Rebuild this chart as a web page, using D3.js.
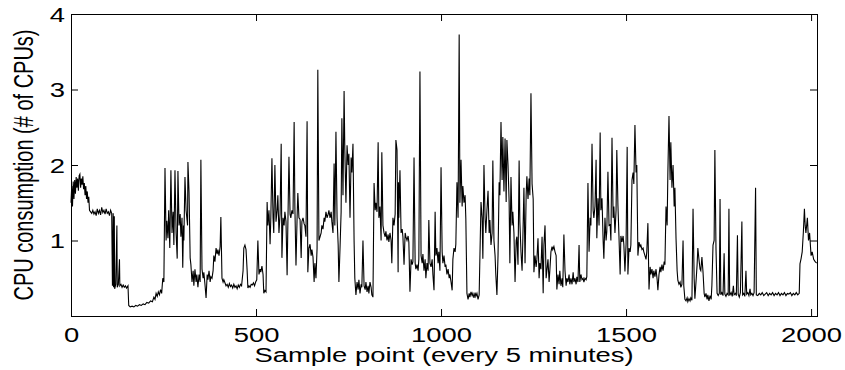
<!DOCTYPE html>
<html>
<head>
<meta charset="utf-8">
<script src="https://cdn.jsdelivr.net/npm/d3@7"></script>
<style>
  html, body { margin: 0; padding: 0; background: #fff; }
  svg { display: block; }
  svg text { font-family: "Liberation Sans", Arial, sans-serif; fill: #000; }
</style>
</head>
<body>
<svg id="chart" width="845" height="370"></svg>
<script>
// [sample index, CPUs used], one vertex per visible turn
const cpuTrace = [
  [0,1.5],[2,1.72],[4,1.45],[6,1.78],[8,1.55],[10,1.8],[12,1.62],[14,1.84],[16,1.7],[18,1.82],
  [20,1.66],[22,1.86],[24,1.88],[26,1.7],[28,1.82],[30,1.74],[32,1.85],[34,1.68],[36,1.76],[38,1.6],
  [40,1.72],[42,1.55],[44,1.65],[46,1.5],[48,1.58],[50,1.4],[53,1.38],[56,1.36],[59,1.4],[62,1.35],
  [65,1.38],[68,1.33],[71,1.42],[74,1.36],[77,1.4],[80,1.34],[83,1.44],[86,1.37],[89,1.4],[92,1.35],
  [95,1.42],[98,1.36],[101,1.38],[104,1.33],[107,1.4],[110,1.36],[112,0.4],[114,1.36],[115,0.38],[117,1.32],
  [118,0.36],[121,0.42],[124,1.2],[125,0.38],[128,0.42],[131,0.75],[132,0.4],[135,0.42],[138,0.38],[141,0.41],
  [144,0.38],[147,0.4],[150,0.37],[154,0.4],[156,0.14],[160,0.12],[165,0.13],[170,0.12],[175,0.14],[180,0.13],
  [185,0.15],[190,0.14],[195,0.16],[200,0.15],[205,0.18],[210,0.17],[215,0.2],[220,0.19],[224,0.25],[227,0.22],
  [230,0.3],[233,0.26],[236,0.32],[239,0.28],[242,0.35],[245,0.3],[248,0.5],[251,0.45],[254,1.96],[257,1.0],
  [259,1.26],[262,1.03],[264,1.4],[267,0.9],[270,1.93],[273,1.1],[276,1.38],[278,0.94],[281,1.93],[284,1.1],
  [287,0.76],[289,1.92],[292,1.2],[295,1.35],[297,1.05],[300,1.3],[302,0.64],[304,1.2],[305,1.0],[308,1.84],
  [311,1.4],[315,1.2],[316,2.04],[319,1.64],[322,0.77],[324,0.68],[327,0.45],[330,0.6],[332,0.4],[335,0.62],
  [338,0.45],[340,0.55],[343,0.38],[346,0.55],[349,0.45],[351,2.07],[354,0.62],[357,0.5],[359,0.58],[362,0.42],
  [365,0.24],[368,0.55],[370,0.48],[373,0.6],[376,0.45],[378,0.52],[381,0.5],[384,0.6],[386,0.8],[389,0.72],
  [392,0.9],[395,0.82],[397,0.88],[400,0.8],[403,0.92],[405,1.31],[408,0.5],[411,0.45],[413,0.48],[416,0.44],
  [419,0.4],[422,0.42],[425,0.38],[428,0.43],[431,0.39],[434,0.41],[437,0.37],[440,0.42],[443,0.38],[446,0.4],
  [449,0.36],[452,0.41],[455,0.38],[458,0.42],[461,0.4],[465,0.6],[467,0.9],[470,0.94],[473,0.88],[476,0.6],
  [478,0.37],[481,0.4],[484,0.38],[487,0.42],[490,0.41],[493,0.44],[496,0.4],[499,0.45],[502,0.48],[505,1.0],
  [508,0.55],[511,0.62],[513,0.58],[516,0.66],[519,0.55],[521,0.3],[524,0.34],[527,0.32],[530,1.51],[532,1.2],
  [535,1.4],[538,0.95],[540,1.3],[543,2.09],[546,1.3],[548,1.1],[551,2.0],[554,1.25],[557,1.4],[559,1.6],
  [562,1.1],[565,1.35],[568,2.28],[570,0.77],[573,1.3],[576,1.2],[578,1.38],[581,1.25],[584,0.54],[586,1.2],
  [589,2.11],[592,1.35],[594,1.3],[597,1.4],[600,1.35],[603,2.57],[605,1.45],[608,0.67],[611,1.3],[613,1.63],
  [616,1.3],[619,1.28],[622,0.77],[624,1.25],[627,1.3],[630,1.22],[632,1.2],[635,1.05],[638,2.58],[640,0.58],
  [643,0.9],[646,0.95],[649,0.8],[651,0.88],[654,0.78],[657,0.45],[659,0.7],[662,0.5],[665,0.9],[667,3.26],
  [670,1.0],[673,1.05],[676,1.1],[678,1.2],[681,1.15],[684,1.3],[686,1.25],[689,1.38],[692,1.3],[695,1.35],
  [697,1.4],[700,1.3],[703,1.38],[705,1.25],[708,1.1],[711,2.02],[713,1.2],[716,2.44],[719,1.3],[722,0.94],
  [724,0.45],[727,0.9],[730,1.38],[732,2.62],[735,1.6],[738,2.98],[740,2.2],[743,1.5],[746,2.26],[749,2.0],
  [751,2.15],[754,1.3],[757,2.1],[759,1.9],[762,2.28],[765,1.0],[767,0.5],[770,0.28],[773,0.45],[776,0.35],
  [778,0.48],[781,0.3],[784,0.42],[786,0.38],[789,1.0],[792,0.4],[795,0.35],[797,0.45],[800,0.32],[803,0.4],
  [805,0.3],[808,0.45],[811,0.38],[813,0.28],[816,0.25],[819,1.76],[822,1.4],[824,1.5],[827,1.38],[830,2.3],
  [832,1.3],[835,1.45],[838,1.0],[840,2.17],[843,1.2],[846,1.1],[849,1.05],[851,1.12],[854,1.0],[857,1.08],
  [859,0.98],[862,1.1],[865,1.0],[867,0.7],[870,1.3],[873,1.2],[876,1.35],[878,2.33],[881,2.2],[884,0.58],
  [885,1.77],[886,1.3],[889,1.93],[892,1.1],[895,1.15],[897,1.05],[900,0.68],[903,1.1],[905,1.05],[908,1.0],
  [911,1.06],[913,0.98],[916,0.32],[919,0.75],[922,0.68],[924,0.72],[927,2.1],[930,0.7],[932,0.62],[935,0.68],
  [938,0.6],[940,0.75],[943,3.24],[946,0.8],[949,0.7],[951,0.82],[954,0.6],[957,0.75],[959,0.5],[962,0.7],
  [965,0.6],[967,1.27],[970,0.7],[973,0.65],[976,0.75],[978,0.55],[981,0.34],[984,1.38],[986,0.8],[989,0.9],
  [992,0.7],[994,0.85],[997,0.6],[1000,1.97],[1003,0.85],[1005,0.7],[1008,0.8],[1011,0.65],[1013,0.68],[1016,0.55],
  [1019,0.62],[1022,0.5],[1024,0.55],[1027,0.45],[1030,0.34],[1032,0.75],[1035,0.9],[1038,0.85],[1040,0.95],[1043,1.77],
  [1046,1.3],[1049,3.73],[1051,1.5],[1054,2.07],[1057,1.45],[1059,1.72],[1062,1.5],[1065,1.6],[1067,1.29],[1070,0.3],
  [1073,0.22],[1076,0.3],[1078,0.25],[1081,0.32],[1084,0.27],[1086,0.3],[1089,0.24],[1092,0.31],[1094,0.26],[1097,0.3],
  [1100,0.22],[1103,0.28],[1108,1.51],[1111,1.3],[1113,0.76],[1116,2.0],[1119,1.3],[1121,1.1],[1124,1.4],[1127,1.66],
  [1130,1.1],[1132,1.27],[1135,0.94],[1138,1.1],[1140,2.06],[1143,1.0],[1146,0.8],[1148,0.55],[1151,0.28],[1154,0.8],
  [1157,1.77],[1159,1.6],[1162,2.57],[1165,1.8],[1167,2.37],[1170,1.65],[1173,2.35],[1176,1.51],[1178,2.33],[1181,2.0],
  [1184,1.51],[1186,0.7],[1189,1.84],[1192,1.2],[1194,1.38],[1197,1.1],[1200,0.45],[1203,1.0],[1205,1.05],[1208,0.68],
  [1211,2.06],[1213,1.25],[1216,0.85],[1219,0.6],[1221,1.0],[1224,1.7],[1227,0.7],[1230,1.6],[1232,1.85],[1235,1.55],
  [1238,1.82],[1240,1.6],[1243,2.95],[1246,1.75],[1249,1.55],[1251,0.58],[1254,0.8],[1257,0.65],[1259,0.75],[1262,1.03],
  [1265,0.5],[1267,0.7],[1270,0.62],[1273,1.05],[1276,0.3],[1278,0.94],[1281,1.2],[1284,0.5],[1286,0.6],[1289,0.75],
  [1292,0.45],[1294,0.6],[1297,0.85],[1300,0.92],[1302,0.88],[1305,0.92],[1308,0.85],[1311,0.8],[1313,0.35],[1316,0.55],
  [1319,0.42],[1321,0.6],[1324,0.4],[1327,0.5],[1329,0.38],[1332,1.08],[1335,0.6],[1338,0.4],[1340,0.5],[1343,0.45],
  [1346,0.55],[1348,0.42],[1351,0.5],[1354,0.42],[1357,0.58],[1359,0.45],[1362,0.5],[1365,0.42],[1367,0.52],[1370,0.45],
  [1373,0.94],[1375,0.45],[1378,0.55],[1381,0.48],[1384,0.5],[1386,0.45],[1389,0.5],[1392,0.48],[1394,0.52],[1397,1.76],
  [1400,0.85],[1403,1.3],[1405,1.2],[1408,2.28],[1411,1.4],[1413,1.3],[1416,1.45],[1419,2.07],[1421,1.03],[1424,1.56],
  [1427,1.2],[1430,2.43],[1432,1.4],[1435,1.56],[1438,1.0],[1440,0.76],[1443,1.3],[1446,1.0],[1448,1.12],[1451,1.91],
  [1454,1.2],[1457,1.21],[1459,1.0],[1462,2.36],[1465,1.3],[1467,1.45],[1470,1.1],[1473,1.4],[1475,2.2],[1478,1.47],
  [1481,1.03],[1484,0.55],[1486,1.06],[1489,0.98],[1492,1.06],[1494,0.95],[1497,0.59],[1500,0.95],[1503,2.24],[1505,0.55],
  [1508,0.9],[1511,0.85],[1513,0.94],[1516,1.8],[1519,1.9],[1521,1.75],[1524,2.53],[1527,1.9],[1529,2.0],[1532,0.8],
  [1535,0.98],[1538,0.92],[1540,0.94],[1543,0.88],[1546,0.9],[1548,0.85],[1551,0.8],[1554,0.75],[1556,0.85],[1559,1.23],
  [1562,0.35],[1565,0.65],[1567,0.55],[1570,0.62],[1573,0.5],[1575,0.6],[1578,0.52],[1581,0.62],[1584,0.48],[1586,0.34],
  [1589,0.55],[1592,0.65],[1594,0.58],[1597,0.68],[1600,0.6],[1603,0.72],[1605,0.68],[1608,1.45],[1611,1.2],[1613,1.9],
  [1616,2.65],[1619,1.8],[1621,2.3],[1624,1.7],[1627,2.0],[1630,1.45],[1632,1.7],[1635,1.03],[1638,0.6],[1640,0.47],
  [1643,0.42],[1646,0.45],[1648,0.38],[1651,0.42],[1654,1.0],[1656,0.4],[1659,0.22],[1662,0.2],[1665,0.24],[1667,0.19],
  [1670,0.23],[1673,0.2],[1675,0.24],[1678,0.21],[1681,1.42],[1684,0.5],[1686,0.23],[1689,0.45],[1692,0.68],[1694,0.9],
  [1697,0.75],[1700,0.62],[1702,0.6],[1705,0.78],[1708,0.58],[1711,0.3],[1713,0.25],[1716,0.3],[1719,0.22],[1721,0.28],
  [1724,0.2],[1727,0.27],[1730,0.22],[1732,0.41],[1735,0.94],[1738,1.0],[1740,2.2],[1743,0.9],[1746,0.3],[1749,0.27],
  [1752,0.3],[1754,1.55],[1756,0.28],[1759,0.31],[1762,0.27],[1765,0.83],[1767,0.29],[1770,0.26],[1773,0.3],[1776,0.28],
  [1778,1.42],[1780,0.27],[1784,0.31],[1787,0.26],[1790,0.4],[1792,0.28],[1796,0.3],[1798,0.27],[1801,1.07],[1803,0.29],
  [1806,0.25],[1809,0.31],[1813,1.25],[1815,0.28],[1818,0.3],[1821,0.26],[1824,0.6],[1826,0.29],[1829,0.31],[1832,0.27],
  [1835,0.36],[1837,0.28],[1840,0.3],[1843,0.27],[1846,0.31],[1850,1.7],[1852,0.28],[1856,0.27],[1860,0.3],[1864,0.28],
  [1868,0.31],[1872,0.27],[1876,0.29],[1880,0.31],[1884,0.27],[1888,0.3],[1892,0.28],[1896,0.31],[1900,0.27],[1904,0.3],
  [1908,0.28],[1912,0.31],[1916,0.27],[1920,0.3],[1924,0.28],[1928,0.31],[1932,0.27],[1936,0.3],[1940,0.29],[1944,0.31],
  [1948,0.27],[1952,0.3],[1956,0.28],[1960,0.31],[1964,0.28],[1968,0.3],[1970,0.69],[1973,0.76],[1976,0.85],[1979,1.1],
  [1982,1.42],[1984,1.2],[1986,1.1],[1990,1.3],[1993,1.0],[1996,1.1],[2000,0.8],[2003,0.85],[2007,0.75],[2011,0.72],
  [2015,0.7]
]

const xTicks = [0, 500, 1000, 1500, 2000]
const yTicks = [1, 2, 3, 4]
const xTitle = "Sample point (every 5 minutes)"
const yTitle = "CPU consumption (# of CPUs)"

const width = 845
const height = 370
const margin = { top: 14, right: 28, bottom: 54, left: 71 }
const innerWidth = width - margin.left - margin.right
const innerHeight = height - margin.top - margin.bottom
// the source figure was exported stretched sideways, text included
const stretch = 1.37
const fontSize = 20

const svg = d3.select("#chart")
svg.append("rect").attr("width", width).attr("height", height).attr("fill", "#fff")

const x = d3.scaleLinear().domain([0, 2016]).range([0, innerWidth])
const y = d3.scaleLinear().domain([0, 4]).range([innerHeight, 0])

const g = svg.append("g").attr("transform", `translate(${margin.left},${margin.top})`)

const line = d3.line()
    .x((d) => x(d[0]))
    .y((d) => y(d[1]))

g.append("path")
    .datum(cpuTrace)
    .attr("fill", "none")
    .attr("stroke", "#000")
    .attr("stroke-width", 1.1)
    .attr("d", line)

// widen glyphs the way the stretched export did, keeping the layout box honest
const widen = (sel) => sel.each(function () {
    const w = this.getComputedTextLength()
    d3.select(this).attr("textLength", w * stretch).attr("lengthAdjust", "spacingAndGlyphs")
})

// matlab style box: inward ticks on all four sides
const tickLen = 7
const styleAxis = (sel) => {
    sel.attr("font-family", null).attr("font-size", null)
    sel.select(".domain").remove()
    sel.selectAll(".tick line").attr("stroke", "#000")
    sel.selectAll(".tick text").style("font-size", fontSize + "px")
}
const noLabels = (sel) => sel.selectAll(".tick text").remove()

g.append("g")
    .attr("transform", `translate(0,${innerHeight})`)
    .call(d3.axisBottom(x).tickValues(xTicks).tickSize(-tickLen).tickFormat(d3.format("d")))
    .call(styleAxis)
    .call((a) => a.selectAll(".tick text").attr("y", 26).attr("dy", null).call(widen))

g.append("g")
    .call(d3.axisTop(x).tickValues(xTicks).tickSize(-tickLen))
    .call(styleAxis)
    .call(noLabels)

g.append("g")
    .call(d3.axisLeft(y).tickValues(yTicks).tickSize(-tickLen).tickFormat(d3.format("d")))
    .call(styleAxis)
    .call((a) => a.selectAll(".tick text").attr("x", -6).attr("y", 7).attr("dy", null).call(widen))

g.append("g")
    .attr("transform", `translate(${innerWidth},0)`)
    .call(d3.axisRight(y).tickValues(yTicks).tickSize(-tickLen))
    .call(styleAxis)
    .call(noLabels)

g.append("rect")
    .attr("width", innerWidth)
    .attr("height", innerHeight)
    .attr("fill", "none")
    .attr("stroke", "#000")
    .attr("stroke-width", 1)
    .attr("shape-rendering", "crispEdges")

svg.append("text")
    .attr("x", margin.left + innerWidth / 2)
    .attr("y", 362)
    .attr("text-anchor", "middle")
    .style("font-size", fontSize + "px")
    .text(xTitle)
    .call(widen)

svg.append("text")
    .attr("transform", `translate(33,${margin.top + innerHeight / 2}) scale(${stretch},1) rotate(-90)`)
    .attr("text-anchor", "middle")
    .style("font-size", fontSize + "px")
    .text(yTitle)
</script>
</body>
</html>
